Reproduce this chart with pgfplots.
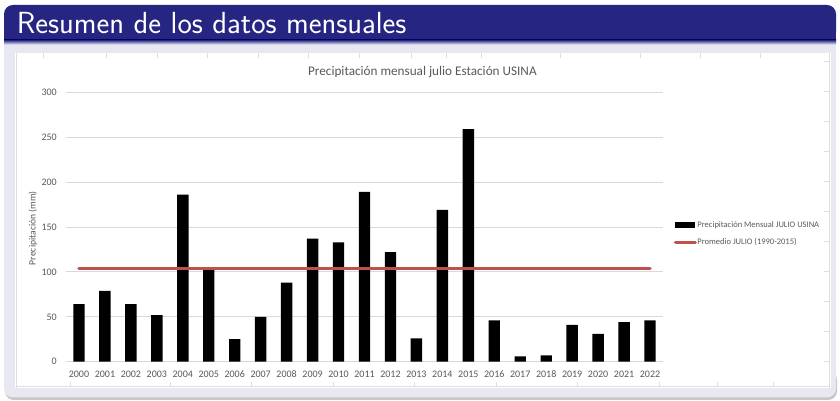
\documentclass[border=0pt]{standalone}
\usepackage{pgfplots}
\pgfplotsset{compat=1.18}
\usepackage{fontspec}
\newfontfamily\carlito{Carlito}
\definecolor{bblue}{RGB}{38,38,130}
\definecolor{lav}{RGB}{232,232,243}
\definecolor{exred}{RGB}{192,80,77}
\definecolor{txtgray}{RGB}{89,89,89}
\definecolor{gridgray}{RGB}{217,217,217}
\definecolor{cellgray}{RGB}{222,222,222}

\pgfplotstableread{
x year val
0 2000 64
1 2001 79
2 2002 64
3 2003 52
4 2004 186
5 2005 103
6 2006 25
7 2007 50
8 2008 88
9 2009 137
10 2010 133
11 2011 189
12 2012 122
13 2013 26
14 2014 169
15 2015 259
16 2016 46
17 2017 6
18 2018 7
19 2019 41
20 2020 31
21 2021 44
22 2022 46
}\datatable

\pgfplotstableread{
x val
0 104
22 104
}\avgtable

\begin{document}
\begin{tikzpicture}[x=1pt,y=1pt]
\path[use as bounding box] (0,0) rectangle (840,401);
\fill[white] (0,0) rectangle (840,401);
% block shadow and body
\fill[black!22, rounded corners=9pt] (5,1) rectangle (837,30);
\fill[lav, rounded corners=9pt] (4,3.5) rectangle (836,40);
\fill[lav] (4,25) rectangle (836,362);
% frame title bar
\fill[bblue, rounded corners=9pt] (4,360.5) rectangle (836,396);
\fill[bblue] (4,360.5) rectangle (836,375);
\shade[top color=bblue, bottom color=lav] (4,356.5) rectangle (836,361);
\node[anchor=base west, inner sep=0pt, text=white,
      font=\sffamily\fontsize{30.5}{34}\selectfont] at (16.7,367.7) {Resumen de los datos mensuales};
% white image area
\fill[white] (15,13) rectangle (831,348);
% faint spreadsheet cell lines
\draw[cellgray, line width=0.6pt] (16,13) -- (16,348);
\draw[cellgray, line width=0.6pt] (829,13) -- (829,348);
\draw[cellgray, line width=0.6pt] (16,14.3) -- (829,14.3);
\foreach \xx in {70,170,251,333,414,496,577,659,717,773}
  \draw[cellgray, line width=0.6pt] (\xx,14.3) -- (\xx,19);
\foreach \xx in {43,106,157,207,258,308,359,411,446,481,560,640,700,760}
  \draw[cellgray, line width=0.6pt] (\xx,348) -- (\xx,343);
\foreach \yy in {40,70,100,130,160,190,220,250,280,310,340}
  \draw[cellgray, line width=0.6pt] (829,\yy) -- (824,\yy);

\begin{axis}[
  at={(66pt,39.3pt)}, anchor=south west,
  scale only axis, width=597pt, height=269.4pt,
  xmin=-0.5, xmax=22.5, ymin=0, ymax=300,
  axis line style={draw=none},
  major tick length=0pt,
  xtick=data,
  xticklabels={2000,2001,2002,2003,2004,2005,2006,2007,2008,2009,2010,2011,2012,2013,2014,2015,2016,2017,2018,2019,2020,2021,2022},
  ytick={0,50,100,150,200,250,300},
  yticklabels={0,50,100,150,200,250,300},
  x tick label style={font=\carlito\fontsize{10}{12}\selectfont, text=txtgray, anchor=north,
      inner sep=0pt, text height=7pt, text depth=0pt, yshift=-8.5pt},
  y tick label style={font=\carlito\fontsize{10}{12}\selectfont, text=txtgray, anchor=east, inner sep=0pt, xshift=-9pt},
  ymajorgrids, grid style={gridgray, line width=0.8pt},
  ylabel={Precipitación (mm)},
  every axis y label/.style={at={(axis description cs:-0.0553,0.496)}, rotate=90, anchor=center,
      font=\carlito\fontsize{9.6}{11}\selectfont, text=txtgray},
  title={Precipitación mensual julio Estación USINA},
  every axis title/.style={at={(axis description cs:0.597,1.0754)}, anchor=center,
      font=\carlito\fontsize{13.2}{15}\selectfont, text=txtgray},
  legend style={at={(axis description cs:1.0184,0.4755)}, anchor=west, draw=none, fill=none,
      inner sep=0pt, outer sep=0pt,
      font=\carlito\fontsize{8.5}{10}\selectfont, text=txtgray,
      nodes={inner sep=0pt, text height=6pt, text depth=1.5pt},
      row sep=9.5pt, column sep=0.5pt},
  legend cell align=left,
  clip=false,
]
\addplot[ybar, bar width=11.4pt, bar shift=0pt, fill=black, draw=none,
  legend image code/.code={\fill[black] (0pt,-3pt) rectangle (20pt,3pt);}]
  table[x=x, y=val] {\datatable};
\addlegendentry{Precipitación Mensual JULIO USINA}
\addplot[exred, line width=3.5pt, line cap=round,
  legend image code/.code={\draw[exred, line width=3pt] (0pt,0pt) -- (20pt,0pt);}]
  table[x=x, y=val] {\avgtable};
\addlegendentry{Promedio JULIO (1990-2015)}
\end{axis}
\end{tikzpicture}
\end{document}
